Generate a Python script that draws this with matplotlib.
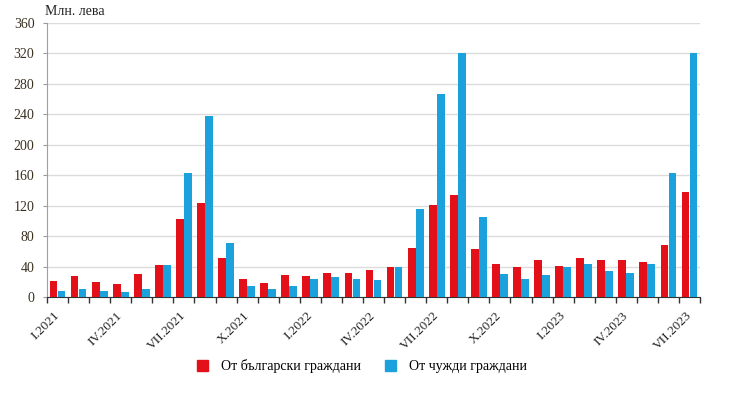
import matplotlib.pyplot as plt
from matplotlib.patches import Patch
import numpy as np

# months I.2021 .. VII.2023
months = 31
tick_labels = ["I.2021", "IV.2021", "VII.2021", "X.2021",
               "I.2022", "IV.2022", "VII.2022", "X.2022",
               "I.2023", "IV.2023", "VII.2023"]
tick_pos = [0, 3, 6, 9, 12, 15, 18, 21, 24, 27, 30]

bulgarian = [20.5, 27.5, 19, 17.5, 30, 42.5, 103, 123, 51,
             23, 18, 29, 27.5, 32, 32, 36, 39, 64.5, 121.5, 134, 63.5,
             43.5, 39.5, 48, 41, 51, 48, 48, 46.5, 68.5, 138]
foreign = [8, 11, 8, 6.5, 11, 42.5, 162.5, 238, 71.5,
           15, 11, 14, 23, 26, 23, 22, 40, 115.5, 267, 320, 105,
           30, 23, 29, 39, 43.5, 34.5, 32, 43.5, 163, 320]

red = "#e3101a"
blue = "#1ba1dc"
serif = "Liberation Serif"

fig = plt.figure(figsize=(7.4, 3.97), dpi=100)
ax = fig.add_axes([0.0635, 0.252, 0.8825, 0.69])

x = np.arange(months)
ax.bar(x - 0.19, bulgarian, width=0.37, color=red, zorder=3)
ax.bar(x + 0.19, foreign, width=0.37, color=blue, zorder=3)

ax.set_xlim(-0.5, months - 0.5)
ax.set_ylim(0, 360)
ax.set_yticks(range(0, 361, 40))
ax.grid(axis="y", color="#dcdcdc", linewidth=1, zorder=0)

# tick marks at the borders between months, labels at month centres
ax.set_xticks(np.arange(months + 1) - 0.5, minor=True)
ax.set_xticks(tick_pos)
ax.set_xticklabels(tick_labels, rotation=45, ha="right", va="center",
                   rotation_mode="anchor", fontfamily=serif, fontsize=9.5,
                   color="#222222")
ax.tick_params(axis="x", which="major", length=0, pad=12)
ax.tick_params(axis="x", which="minor", length=4, color="#333333", width=1)
ax.tick_params(axis="y", length=3, color="#999999", labelsize=10,
               labelcolor="#3a3020", pad=6)
for lab in ax.get_yticklabels():
    lab.set_fontfamily(serif)

for s in ["top", "right"]:
    ax.spines[s].set_visible(False)
ax.spines["left"].set_color("#a0a0a0")
ax.spines["bottom"].set_color("#333333")

fig.text(0.061, 0.955, "Млн. лева", fontfamily=serif, fontsize=10,
         color="#222222", ha="left", va="bottom")

handles = [Patch(color=red, label="От български граждани"),
           Patch(color=blue, label="От чужди граждани")]
fig.legend(handles=handles, loc="center", bbox_to_anchor=(0.489, 0.078),
           ncol=2, frameon=False, handlelength=0.8, handleheight=0.8,
           columnspacing=1.75, handletextpad=0.9,
           prop={"family": serif, "size": 10})

fig.savefig("out.png", dpi=100)
